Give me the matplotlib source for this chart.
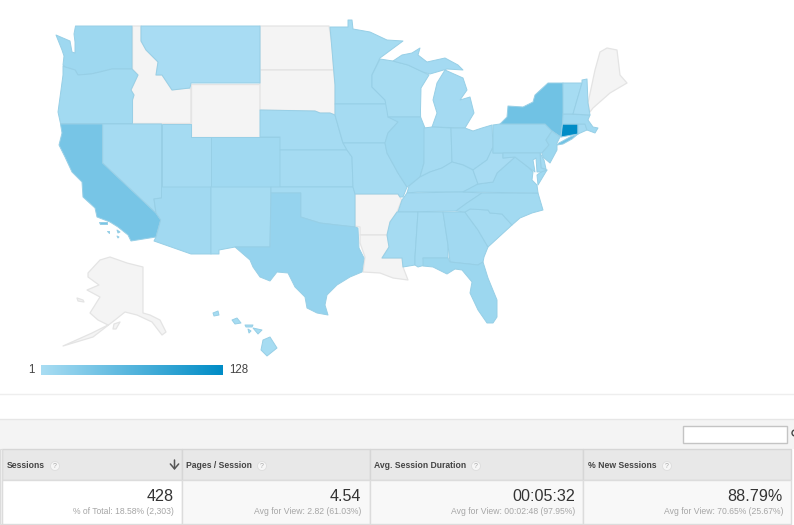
import numpy as np
import matplotlib
matplotlib.use('Agg')
import matplotlib.pyplot as plt
from matplotlib.collections import PolyCollection
from matplotlib.colors import LinearSegmentedColormap, Normalize
from matplotlib.patches import Rectangle, Circle

plt.rcParams['font.family'] = ['Liberation Sans', 'DejaVu Sans']

# Sessions per state (0 = no data, drawn grey)
sessions = {
    'WA': 9, 'OR': 6, 'CA': 39, 'NV': 4, 'ID': 0, 'MT': 2, 'WY': 0, 'UT': 4, 'AZ': 7, 'CO': 8, 'NM': 3,
    'ND': 0, 'SD': 0, 'NE': 4, 'KS': 4, 'OK': 4, 'TX': 16, 'MN': 3, 'IA': 4, 'MO': 4, 'AR': 0, 'LA': 0,
    'WI': 3, 'IL': 9, 'MI': 5, 'IN': 4, 'OH': 5, 'KY': 4, 'TN': 5, 'MS': 4, 'AL': 4, 'GA': 7, 'FL': 11,
    'SC': 4, 'NC': 6, 'VA': 8, 'WV': 2, 'PA': 8, 'NY': 44, 'NJ': 11, 'DE': 4, 'MD': 7, 'CT': 128, 'RI': 5,
    'MA': 7, 'VT': 3, 'NH': 2, 'ME': 0, 'AK': 0, 'HI': 3,
}
legend_min, legend_max = 1, 128

# State outlines (pixel space of the picture)
outlines = {
    'WA': [[(75.5, 26), (132, 26), (132, 69), (112, 69), (100, 72), (91, 74), (78, 75), (75, 70), (65, 67), (63, 65), (64, 56), (62, 50), (60, 45), (56, 35), (70, 41), (72, 52), (75, 53), (75, 42), (74, 34)]],
    'OR': [[(63, 66), (65, 67), (75, 70), (78, 75), (91, 74), (100, 72), (112, 69), (132, 69), (138, 75), (131, 90), (134, 95), (132.5, 100), (132.5, 123.5), (60.5, 123.5), (58, 112), (61, 90), (63, 75)]],
    'CA': [[(60.5, 124), (102.7, 124), (102.7, 163), (156, 213), (160.7, 220), (156, 237), (131, 241), (128, 235), (118, 227), (110, 222), (97, 217), (95, 208), (83, 197), (82, 182), (72, 172), (65, 157), (59, 145), (62, 133)],
           [(99, 222), (107, 222), (107, 224), (100, 224)], [(107, 231), (109, 231), (109, 233)], [(117, 230), (120, 232), (118, 233)], [(117, 236), (119, 237), (118, 238)]],
    'NV': [[(102.7, 124), (161.5, 124), (161.5, 198), (154, 199), (156, 213), (102.7, 163)]],
    'UT': [[(161.5, 124), (191, 124), (191, 137), (211, 137), (211, 187), (161.5, 187)]],
    'AZ': [[(161.5, 187), (211, 187), (211, 254), (191, 254), (154, 241), (156, 237), (160.7, 220), (156, 213), (154, 199), (161.5, 198)]],
    'ID': [[(132.5, 26), (141, 26), (141, 41), (146, 50), (158, 62), (156, 75), (162, 75), (172, 90), (188, 88), (191, 89), (191, 123.5), (132.5, 123.5), (132.5, 100), (134, 95), (131, 90), (138, 75), (132.5, 69)]],
    'MT': [[(141, 26), (260, 26), (260, 83), (191, 83), (190, 88), (172, 90), (162, 75), (156, 75), (158, 62), (146, 50), (141, 41)]],
    'WY': [[(191, 83.5), (260, 83.5), (260, 136.7), (191, 136.7)]],
    'CO': [[(211, 137), (280, 137), (280, 187), (211, 187)]],
    'NM': [[(211, 187), (271, 187), (270, 247), (235, 247), (219, 250), (219, 254), (211, 254)]],
    'ND': [[(260, 26), (329, 26), (332, 45), (333.5, 70), (260, 70)]],
    'SD': [[(260, 70), (333.5, 70), (335, 85), (335, 115), (330, 113), (320, 113), (315, 111), (260, 110)]],
    'NE': [[(260, 110), (315, 111), (320, 113), (330, 113), (335, 115), (342, 140), (347, 150), (280, 150), (280, 137), (260, 137)]],
    'KS': [[(280, 150), (347, 150), (352, 157), (353, 187), (280, 187)]],
    'OK': [[(271, 187), (353, 187), (355, 193), (355, 227), (337, 225), (320, 223), (300.7, 217), (300.7, 193), (271, 193)]],
    'TX': [[(271, 193), (300.7, 193), (300.7, 217), (320, 223), (337, 225), (355, 227), (358, 228), (359, 248), (364, 258), (362, 272), (350, 277), (337, 285), (327, 295), (325, 305), (328, 315), (317, 313), (307, 308), (305, 297), (295, 287), (288, 273), (277, 272), (270, 281), (260, 277), (253, 267), (250, 260), (235, 247), (270, 247)]],
    'MN': [[(330, 27), (348, 27), (348, 20), (352, 20), (353, 29), (370, 32), (387, 40), (403, 41), (380, 58), (372, 75), (372, 87), (385, 100), (387, 104), (335, 104), (335, 85), (332, 50)]],
    'IA': [[(335, 104), (387, 104), (398, 122), (388, 133), (385, 143), (343, 143), (335, 115)]],
    'MO': [[(343, 143), (385, 143), (387, 153), (398, 173), (407, 187), (403, 197), (400, 197), (398, 194), (355, 194), (353, 187), (352, 157), (347, 150)]],
    'AR': [[(355, 194), (398, 194), (401.7, 200), (397, 212), (390, 222), (387, 235), (360, 235), (360, 227), (355, 226)]],
    'LA': [[(360, 235), (387, 235), (389, 247), (382, 258), (402, 258), (403, 267), (408, 280), (393, 278), (380, 273), (363, 272), (365, 257), (360, 243)]],
    'WI': [[(380, 59), (393, 61), (408, 65), (423, 72), (429, 75), (421, 88), (420.5, 110), (420.6, 117), (388, 117), (385, 100), (372, 87), (372, 75)]],
    'IL': [[(388, 117), (420.6, 117), (425, 128), (424, 163), (420, 177), (410, 185), (407, 187), (398, 173), (387, 153), (385, 143), (388, 133), (398, 122)]],
    'MI': [[(445, 70), (463, 78), (467, 90), (460, 100), (470, 97), (474, 113), (465, 128), (432, 127), (437, 113), (433, 100), (437, 83)],
           [(393, 61), (402, 55), (412, 53), (420, 48), (418, 55), (427, 62), (445, 58), (458, 65), (463, 70), (447, 69), (430, 74), (423, 72), (408, 65)]],
    'IN': [[(424, 128), (432, 127), (451, 128), (452, 162), (442, 168), (430, 172), (420, 177), (424, 163)]],
    'OH': [[(451, 128), (465, 128), (473, 131), (482, 128), (492, 125), (493, 147), (487, 160), (473, 170), (463, 165), (452, 162)]],
    'KY': [[(407, 193), (409, 186), (420, 177), (430, 172), (442, 168), (452, 162), (463, 165), (473, 170), (478, 184), (463, 192), (418, 192)]],
    'TN': [[(407, 193), (463, 192), (482, 193), (467, 203), (456, 211), (398, 212), (402, 200)]],
    'MS': [[(397, 212), (418, 212), (415, 257), (415, 265), (403, 267), (402, 258), (382, 258), (389, 247), (387, 235), (390, 222)]],
    'AL': [[(418, 212), (443, 212), (448, 245), (448, 258), (423, 258), (425, 265), (418, 267), (415, 265), (415, 257)]],
    'GA': [[(443, 212), (465, 212), (467, 215), (478, 230), (488, 247), (484, 257), (483, 262), (478, 265), (450, 262), (448, 245)]],
    'FL': [[(423, 258), (448, 258), (450, 262), (478, 265), (483, 262), (488, 278), (497, 300), (497, 317), (493, 323), (487, 323), (478, 310), (470, 293), (472, 282), (462, 270), (455, 269), (447, 274), (433, 267), (423, 266)]],
    'SC': [[(465, 212), (470, 209), (488, 210), (490, 213), (502, 214), (512, 225), (488, 247), (478, 230), (467, 215)]],
    'NC': [[(482, 193), (538, 193), (543, 210), (532, 213), (520, 218), (512, 225), (502, 214), (490, 213), (488, 210), (470, 209), (465, 212), (456, 211), (467, 203)]],
    'VA': [[(463, 192), (478, 184), (493, 182), (497, 173), (515, 157), (528, 167), (533, 172), (532, 180), (537, 185), (538, 193)],
           [(541, 172), (547, 170), (538, 185), (537, 175)]],
    'WV': [[(493, 147), (493, 153), (503, 153), (503, 158), (515, 157), (497, 173), (493, 182), (478, 184), (473, 170), (487, 160)]],
    'PA': [[(493, 125), (500, 124), (545, 124), (552, 131), (546, 140), (549, 145), (542, 153), (493, 153)]],
    'NY': [[(500, 124), (507, 117), (508, 106), (523, 107), (533, 102), (535, 95), (548, 83), (563, 83), (564, 110), (562.5, 124), (561, 137), (552, 131), (545, 124)],
           [(559, 143), (570, 137), (578, 134), (572, 139), (563, 144), (557, 145)]],
    'NJ': [[(552, 131), (560, 137), (557, 143), (557, 150), (550, 163), (543, 157), (542, 153), (549, 145), (546, 140)]],
    'DE': [[(540, 153), (544, 160), (546, 169), (541, 168)]],
    'MD': [[(503, 153), (540, 153), (541, 168), (547, 170), (541, 172), (537, 172), (536, 158), (533, 160), (535, 172), (528, 167), (515, 157), (503, 158)]],
    'CT': [[(562.5, 124), (578, 124), (578, 134), (561, 137)]],
    'RI': [[(578, 124), (585, 124), (587, 130), (578, 134)]],
    'MA': [[(563, 114), (590, 115), (588, 120), (593, 127), (598, 128), (595, 133), (587, 130), (585, 124), (562.5, 124)]],
    'VT': [[(563, 83), (582, 83), (573, 114), (563, 114)]],
    'NH': [[(582, 83), (582, 80), (587, 79), (588, 103), (590, 115), (573, 114)]],
    'ME': [[(588, 103), (595, 70), (600, 52), (607, 48), (617, 50), (620, 75), (627, 83), (610, 93), (593, 108), (590, 112)]],
    'AK': [[(88, 273), (100, 260), (110, 257), (127, 263), (143, 267), (143, 313), (150, 315), (160, 320), (166, 332), (162, 335), (152, 322), (137, 315), (125, 312), (115, 320), (93, 337), (63, 346), (92, 333), (108, 325), (98, 320), (90, 313), (100, 297), (87, 290), (99, 285), (88, 277)],
           [(114, 324), (120, 322), (116, 329), (113, 329)],
           [(77, 298), (83, 300), (84, 302), (78, 301)]],
    'HI': [[(263, 340), (270, 337), (277, 348), (267, 356), (261, 350)],
           [(253, 328), (262, 330), (258, 334)],
           [(232, 320), (237, 318), (241, 323), (235, 324)],
           [(213, 313), (218, 311), (219, 315), (214, 316)],
           [(245, 325), (253, 325), (252, 327), (246, 327)],
           [(248, 329), (251, 331), (249, 333)]],
}

table_headers = ['Sessions', 'Pages / Session', 'Avg. Session Duration', '% New Sessions']
table_values = ['428', '4.54', '00:05:32', '88.79%']
table_notes = ['% of Total: 18.58% (2,303)', 'Avg for View: 2.82 (61.03%)',
               'Avg for View: 00:02:48 (97.95%)', 'Avg for View: 70.65% (25.67%)']

fig = plt.figure(figsize=(7.94, 5.25), dpi=100)
ax = fig.add_axes([0, 0, 1, 1])

cmap = LinearSegmentedColormap.from_list('sessions', ['#a9ddf3', '#008cc6'])
norm = Normalize(legend_min, legend_max)

grey_rings = [r for s, rings in outlines.items() if sessions[s] == 0 for r in rings]
ax.add_collection(PolyCollection(grey_rings, facecolors='#f4f4f4', edgecolors='#e4e4e4', linewidths=0.9, zorder=2))

blue_rings, blue_vals = [], []
for s, rings in outlines.items():
    if sessions[s] > 0:
        for r in rings:
            blue_rings.append(r)
            blue_vals.append(sessions[s])
ax.add_collection(PolyCollection(blue_rings, array=np.array(blue_vals), cmap=cmap, norm=norm,
                                 edgecolors='#97cfe6', linewidths=0.7, zorder=3))

# Legend
grad = np.linspace(legend_min, legend_max, 256).reshape(1, -1)
ax.imshow(grad, cmap=cmap, norm=norm, extent=(41, 223, 375, 365), aspect='auto', zorder=3)
ax.set_xlim(0, 794)
ax.set_ylim(525, 0)
ax.axis('off')
ax.text(35, 370, str(legend_min), ha='right', va='center', fontsize=8.3, color='#444444')
ax.text(229, 370, str(legend_max), ha='left', va='center', fontsize=8.3, color='#444444')

# Table chrome
ax.plot([0, 794], [394, 394], color='#eeeeee', lw=1, zorder=1)
ax.add_patch(Rectangle((0, 419), 794, 30, fc='#f4f4f4', ec='none', zorder=1))
ax.plot([0, 794], [419, 419], color='#e6e6e6', lw=1, zorder=2)
ax.add_patch(Rectangle((683, 426), 104, 17, fc='white', ec='#c4c4c4', lw=1, zorder=2))
ax.add_patch(Circle((795, 433), 3, fc='none', ec='#444444', lw=1, zorder=3))

col_edges = [2, 181.5, 369.5, 583, 791]
icon_x = [55, 262, 476, 667]
for i, (h, v, n) in enumerate(zip(table_headers, table_values, table_notes)):
    x0, x1 = col_edges[i], col_edges[i + 1]
    ax.add_patch(Rectangle((x0, 449), x1 - x0, 31, fc='#e8e8e8', ec='#d6d6d6', lw=1, zorder=2))
    ax.add_patch(Rectangle((x0, 480), x1 - x0, 43.5, fc='white' if i == 0 else '#f8f8f8', ec='#dcdcdc', lw=1, zorder=2))
    ax.text(x0 + 5, 466, h, ha='left', va='center', fontsize=6.25, fontweight='bold', color='#444444', zorder=3)
    ax.add_patch(Circle((icon_x[i], 466), 4.5, fc='#f6f6f6', ec='#dddddd', lw=0.6, zorder=3))
    ax.text(icon_x[i], 466, '?', ha='center', va='center', fontsize=5, color='#aaaaaa', zorder=4)
    ax.text(x1 - 8, 496.5, v, ha='right', va='center', fontsize=11.6, color='#333333', zorder=3)
    ax.text(x1 - 8, 511, n, ha='right', va='center', fontsize=6.2, color='#a6a6a6', zorder=3)
ax.add_patch(Rectangle((0, 449), 2, 75, fc='#f0f0f0', ec='#dcdcdc', lw=0.8, zorder=2))
ax.annotate('', xy=(174.5, 470), xytext=(174.5, 460),
            arrowprops=dict(arrowstyle='->,head_length=0.35,head_width=0.3', color='#555555', lw=1.1,
                            mutation_scale=10, shrinkA=0, shrinkB=0), zorder=4)

fig.savefig('out.png', dpi=100)
